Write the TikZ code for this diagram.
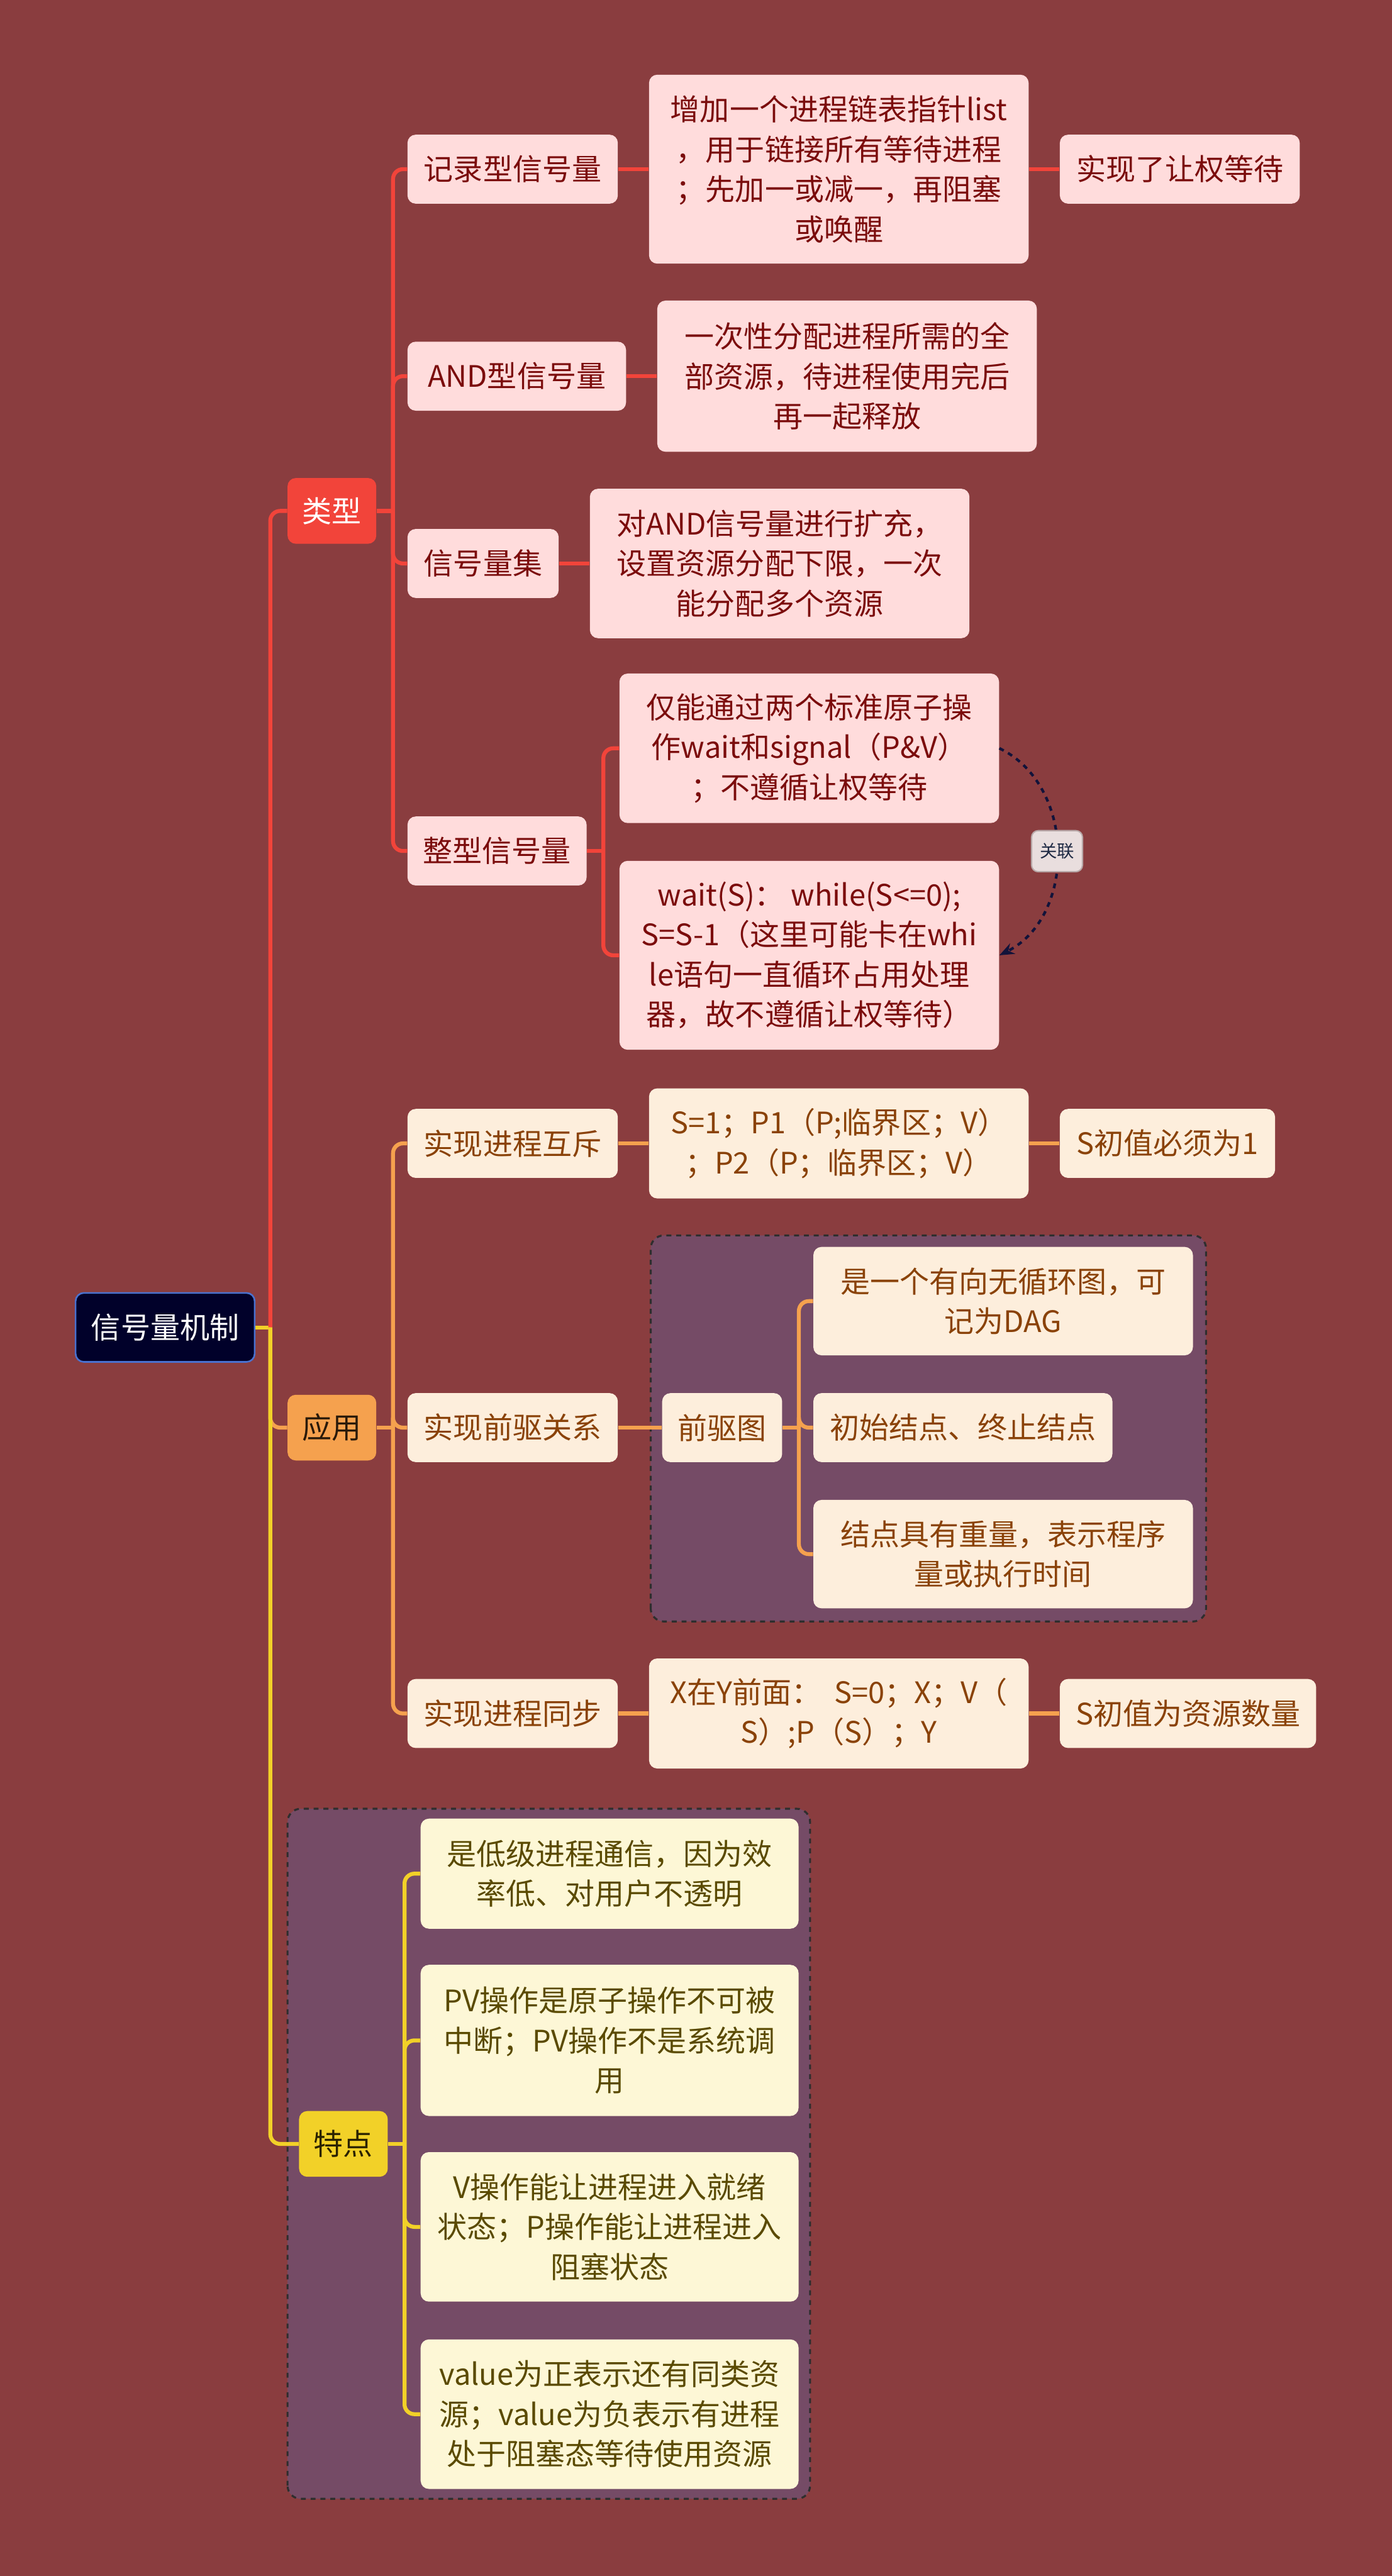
\documentclass[tikz,border=0pt]{standalone}
\usepackage{fontspec}
\setmainfont{Noto Sans CJK SC}
\usetikzlibrary{arrows.meta,shapes}

\definecolor{bgcol}{HTML}{8A3D3F}
\definecolor{rootfill}{HTML}{01012A}
\definecolor{rootline}{HTML}{4A72D0}
\definecolor{redmain}{HTML}{F2443A}
\definecolor{redlight}{HTML}{FFDCDC}
\definecolor{redtext}{HTML}{7B0C0C}
\definecolor{orgmain}{HTML}{F5A14E}
\definecolor{orglight}{HTML}{FDEEDC}
\definecolor{orgtext}{HTML}{8A4208}
\definecolor{orgdark}{HTML}{2A1A0A}
\definecolor{ylwmain}{HTML}{F2D128}
\definecolor{ylwlight}{HTML}{FDF7D6}
\definecolor{ylwtext}{HTML}{5A4A00}
\definecolor{ylwdark}{HTML}{2A2200}
\definecolor{grpfill}{HTML}{754B66}
\definecolor{grpline}{HTML}{2E2E2E}
\definecolor{assoccol}{HTML}{12133A}
\definecolor{taglight}{HTML}{E9DEDE}
\definecolor{tagline}{HTML}{B8A8A8}
\definecolor{tagtext}{HTML}{1F2A44}

\begin{document}
\begin{tikzpicture}[line join=round,
  every node/.style={font=\fontsize{18bp}{24.3bp}\selectfont, align=center, inner sep=2bp, rounded corners=5bp},
  rootbox/.style={fill=rootfill, draw=rootline, line width=1bp, text=white},
  typebox/.style={fill=redmain, text=white, minimum width=54bp, minimum height=40bp},
  usebox/.style={fill=orgmain, text=orgdark, minimum width=54bp, minimum height=40bp},
  featbox/.style={fill=ylwmain, text=ylwdark, minimum width=54bp, minimum height=40bp},
  redleaf/.style={fill=redlight, text=redtext, minimum height=42bp},
  orgleaf/.style={fill=orglight, text=orgtext, minimum height=42bp},
  ylwleaf/.style={fill=ylwlight, text=ylwtext, minimum width=230bp},
  rline/.style={draw=redmain, line width=2.4bp, rounded corners=6bp},
  oline/.style={draw=orgmain, line width=2.4bp, rounded corners=6bp},
  yline/.style={draw=ylwmain, line width=2.4bp, rounded corners=6bp},
  groupbox/.style={fill=grpfill, draw=grpline, dashed, line width=1.2bp, rounded corners=8bp},
  assoc/.style={draw=assoccol, dashed, line width=1.6bp, -{Stealth[length=9bp,width=7bp]}},
  tagbox/.style={fill=taglight, draw=tagline, solid, line width=0.8bp, text=tagtext,
    font=\fontsize{10.5bp}{12bp}\selectfont, minimum width=31bp, minimum height=25bp,
    inner sep=1bp, rounded corners=4bp},
]

\useasboundingbox (0bp,0bp) rectangle (847bp,1568bp);
\fill[bgcol] (0bp,0bp) rectangle (847bp,1568bp);

% Groups
\draw[groupbox] (396bp,581bp) rectangle (734bp,816bp);
\draw[groupbox] (175bp,47bp) rectangle (493bp,467bp);

% Node: root
\node[rootbox, minimum width=109bp, minimum height=42bp] (root) at (100.5bp,760bp) {信号量机制};

% Node: type
\node[typebox] (leixing) at (202bp,1257bp) {类型};
\node[usebox] (yingyong) at (202bp,699bp) {应用};
\node[featbox] (tedian) at (209bp,263bp) {特点};

% Node: type children
\node[redleaf, minimum width=128bp] (jilu) at (312bp,1465bp) {记录型信号量};
\node[redleaf, minimum width=231bp, minimum height=115bp] (jiluA) at (510.5bp,1465bp)
  {增加一个进程链表指针list\\，用于链接所有等待进程\\；先加一或减一，再阻塞\\或唤醒};
\node[redleaf, minimum width=146bp] (jiluB) at (718bp,1465bp) {实现了让权等待};

\node[redleaf, minimum width=133bp] (andx) at (314.5bp,1339bp) {AND型信号量};
\node[redleaf, minimum width=231bp, minimum height=92bp] (andA) at (515.5bp,1339bp)
  {一次性分配进程所需的全\\部资源，待进程使用完后\\再一起释放};

\node[redleaf, minimum width=92bp] (jihe) at (294bp,1225bp) {信号量集};
\node[redleaf, minimum width=231bp, minimum height=91bp] (jiheA) at (474.5bp,1225bp)
  {对AND信号量进行扩充，\\设置资源分配下限，一次\\能分配多个资源};

\node[redleaf, minimum width=109bp] (zhengxing) at (302.5bp,1050bp) {整型信号量};
\node[redleaf, minimum width=231bp, minimum height=91bp] (zxA) at (492.5bp,1112.5bp)
  {仅能通过两个标准原子操\\作wait和signal（P\&V）\\；不遵循让权等待};
\node[redleaf, minimum width=231bp, minimum height=115bp] (zxB) at (492.5bp,986.5bp)
  {wait(S)：~while(S<=0);\\S=S-1（这里可能卡在whi\\le语句一直循环占用处理\\器，故不遵循让权等待）};

% Node: use children
\node[orgleaf, minimum width=128bp] (huchi) at (312bp,872bp) {实现进程互斥};
\node[orgleaf, minimum width=231bp, minimum height=67bp] (huchiA) at (510.5bp,872bp)
  {S=1；P1（P;临界区；V）\\；P2（P；临界区；V）};
\node[orgleaf, minimum width=131bp] (huchiB) at (710.5bp,872bp) {S初值必须为1};

\node[orgleaf, minimum width=128bp] (qianqu) at (312bp,699bp) {实现前驱关系};
\node[orgleaf, minimum width=73bp] (qqtu) at (439.5bp,699bp) {前驱图};
\node[orgleaf, minimum width=231bp, minimum height=66bp] (qqA) at (610.5bp,776bp)
  {是一个有向无循环图，可\\记为DAG};
\node[orgleaf, minimum width=182bp] (qqB) at (586bp,699bp) {初始结点、终止结点};
\node[orgleaf, minimum width=231bp, minimum height=66bp] (qqC) at (610.5bp,622bp)
  {结点具有重量，表示程序\\量或执行时间};

\node[orgleaf, minimum width=128bp] (tongbu) at (312bp,525bp) {实现进程同步};
\node[orgleaf, minimum width=231bp, minimum height=67bp] (tongbuA) at (510.5bp,525bp)
  {X在Y前面：~~S=0；X；V（\\S）;P（S）；Y};
\node[orgleaf, minimum width=156bp] (tongbuB) at (723bp,525bp) {S初值为资源数量};

% Node: feature children
\node[ylwleaf, minimum height=67bp] (tdA) at (371bp,427.5bp)
  {是低级进程通信，因为效\\率低、对用户不透明};
\node[ylwleaf, minimum height=92bp] (tdB) at (371bp,326bp)
  {PV操作是原子操作不可被\\中断；PV操作不是系统调\\用};
\node[ylwleaf, minimum height=91bp] (tdC) at (371bp,212.5bp)
  {V操作能让进程进入就绪\\状态；P操作能让进程进入\\阻塞状态};
\node[ylwleaf, minimum height=91bp] (tdD) at (371bp,98.5bp)
  {value为正表示还有同类资\\源；value为负表示有进程\\处于阻塞态等待使用资源};

% Edge: root -> type, use, feature
\draw[yline] (root.east) -- ++(9bp,0) coordinate (t0);
\draw[rline] (t0) |- (leixing.west);
\draw[oline] (t0) |- (yingyong.west);
\draw[yline] (t0) |- (tedian.west);

% Edge: type -> children
\draw[rline] (leixing.east) -- ++(10bp,0) coordinate (t1);
\draw[rline] (t1) |- (jilu.west);
\draw[rline] (t1) |- (andx.west);
\draw[rline] (t1) |- (jihe.west);
\draw[rline] (t1) |- (zhengxing.west);
\draw[rline] (jilu.east) -- (jiluA.west);
\draw[rline] (jiluA.east) -- (jiluB.west);
\draw[rline] (andx.east) -- (andA.west);
\draw[rline] (jihe.east) -- (jiheA.west);
\draw[rline] (zhengxing.east) -- ++(10bp,0) coordinate (t2);
\draw[rline] (t2) |- (zxA.west);
\draw[rline] (t2) |- (zxB.west);

% Edge: zxA -> zxB
\draw[assoc] (zxA.east) .. controls (655bp,1090bp) and (655bp,1010bp) .. (zxB.east)
  node[pos=0.5, tagbox] (guanlian) {关联};

% Edge: use -> children
\draw[oline] (yingyong.east) -- ++(10bp,0) coordinate (t3);
\draw[oline] (t3) |- (huchi.west);
\draw[oline] (t3) |- (qianqu.west);
\draw[oline] (t3) |- (tongbu.west);
\draw[oline] (huchi.east) -- (huchiA.west);
\draw[oline] (huchiA.east) -- (huchiB.west);
\draw[oline] (qianqu.east) -- (qqtu.west);
\draw[oline] (qqtu.east) -- ++(10bp,0) coordinate (t4);
\draw[oline] (t4) |- (qqA.west);
\draw[oline] (t4) |- (qqB.west);
\draw[oline] (t4) |- (qqC.west);
\draw[oline] (tongbu.east) -- (tongbuA.west);
\draw[oline] (tongbuA.east) -- (tongbuB.west);

% Edge: feature -> children
\draw[yline] (tedian.east) -- ++(10bp,0) coordinate (t5);
\draw[yline] (t5) |- (tdA.west);
\draw[yline] (t5) |- (tdB.west);
\draw[yline] (t5) |- (tdC.west);
\draw[yline] (t5) |- (tdD.west);

\end{tikzpicture}
\end{document}
